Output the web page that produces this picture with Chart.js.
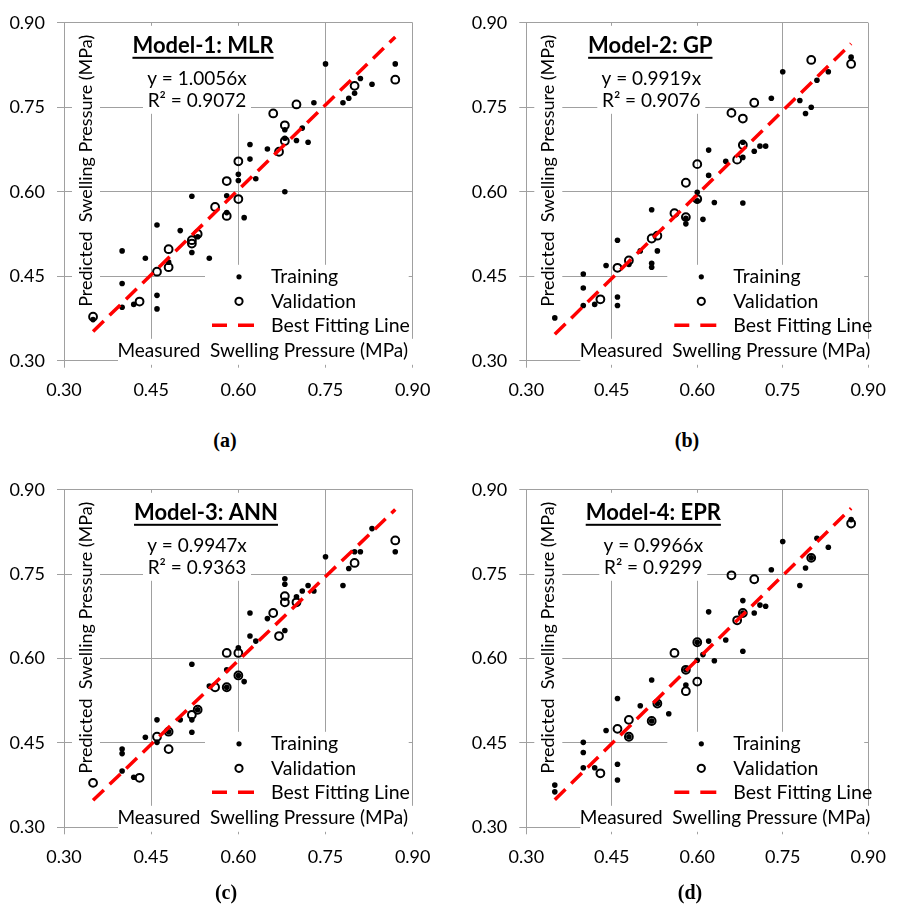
<!DOCTYPE html>
<html>
<head>
<meta charset="utf-8">
<script src="https://cdn.jsdelivr.net/npm/chart.js@4.4.0/dist/chart.umd.min.js"></script>
<style>
  body { margin: 0; background: #fff; }
  #wrap { position: relative; width: 898px; height: 910px; overflow: hidden; }
  canvas { position: absolute; }
  .lbl { position: absolute; font: bold 20px "Liberation Serif", serif; transform: translateX(-50%); line-height: 23px; }
</style>
</head>
<body>
<div id="wrap">
  <canvas id="pa" width="449" height="420" style="left:0;top:0"></canvas>
  <canvas id="pb" width="449" height="420" style="left:449px;top:0"></canvas>
  <canvas id="pc" width="449" height="420" style="left:0;top:467px"></canvas>
  <canvas id="pd" width="449" height="420" style="left:449px;top:467px"></canvas>
  <div class="lbl" style="left:225px;top:429px">(a)</div>
  <div class="lbl" style="left:687px;top:429px">(b)</div>
  <div class="lbl" style="left:226px;top:881px">(c)</div>
  <div class="lbl" style="left:690px;top:881px">(d)</div>
</div>
<script>
// axis ticks (same on both axes)
const tickValues = [0.30, 0.45, 0.60, 0.75, 0.90];
const tickLabels = ['0.30', '0.45', '0.60', '0.75', '0.90'];

// best fitting line end points
const fitX = [0.35, 0.87];
const mlrFitY = [0.352, 0.875];
const gpFitY = [0.347, 0.863];
const annFitY = [0.348, 0.865];
const eprFitY = [0.349, 0.867];

// Model-1: MLR
const mlrTrainX = [0.35,0.40,0.40,0.40,0.42,0.44,0.46,0.46,0.46,0.48,0.50,0.52,0.52,0.53,0.55,0.58,0.58,0.60,0.60,0.61,0.62,0.62,0.63,0.65,0.68,0.68,0.68,0.70,0.71,0.72,0.73,0.75,0.78,0.79,0.80,0.81,0.83,0.87];
const mlrTrainY = [0.373,0.495,0.437,0.395,0.400,0.482,0.541,0.416,0.392,0.475,0.531,0.592,0.492,0.520,0.482,0.593,0.563,0.631,0.620,0.554,0.684,0.658,0.623,0.676,0.710,0.695,0.600,0.691,0.713,0.688,0.758,0.827,0.758,0.766,0.775,0.801,0.791,0.827];
const mlrValX = [0.35,0.43,0.46,0.48,0.48,0.52,0.52,0.53,0.56,0.58,0.58,0.60,0.60,0.66,0.67,0.68,0.68,0.70,0.80,0.87];
const mlrValY = [0.378,0.405,0.458,0.498,0.466,0.514,0.508,0.525,0.573,0.619,0.557,0.654,0.587,0.739,0.671,0.718,0.690,0.755,0.788,0.799];

// Model-2: GP
const gpTrainX = [0.35,0.40,0.40,0.40,0.42,0.44,0.46,0.46,0.46,0.48,0.50,0.52,0.52,0.52,0.53,0.58,0.58,0.60,0.60,0.61,0.62,0.62,0.63,0.65,0.68,0.68,0.68,0.70,0.71,0.72,0.73,0.75,0.78,0.79,0.80,0.81,0.83,0.87];
const gpTrainY = [0.376,0.454,0.429,0.398,0.400,0.469,0.514,0.413,0.398,0.471,0.495,0.568,0.473,0.466,0.495,0.553,0.543,0.599,0.584,0.551,0.674,0.629,0.581,0.654,0.688,0.661,0.580,0.672,0.681,0.681,0.766,0.813,0.762,0.739,0.750,0.798,0.813,0.839];
const gpValX = [0.43,0.46,0.48,0.52,0.53,0.56,0.58,0.58,0.60,0.60,0.66,0.67,0.68,0.68,0.70,0.80,0.87];
const gpValY = [0.409,0.465,0.478,0.517,0.522,0.562,0.616,0.555,0.649,0.587,0.740,0.657,0.730,0.683,0.758,0.834,0.827];

// Model-3: ANN
const annTrainX = [0.40,0.40,0.40,0.42,0.44,0.46,0.46,0.48,0.50,0.52,0.52,0.52,0.53,0.55,0.58,0.58,0.60,0.60,0.61,0.62,0.62,0.63,0.65,0.68,0.68,0.68,0.70,0.71,0.72,0.73,0.75,0.78,0.79,0.80,0.81,0.83,0.87];
const annTrainY = [0.439,0.431,0.400,0.389,0.460,0.491,0.451,0.470,0.491,0.590,0.491,0.469,0.509,0.551,0.580,0.549,0.619,0.570,0.559,0.681,0.640,0.631,0.671,0.742,0.732,0.650,0.710,0.720,0.730,0.720,0.781,0.730,0.760,0.790,0.790,0.831,0.790];
const annValX = [0.35,0.43,0.46,0.48,0.48,0.52,0.53,0.56,0.58,0.58,0.60,0.60,0.66,0.67,0.68,0.68,0.70,0.80,0.87];
const annValY = [0.379,0.388,0.461,0.470,0.439,0.500,0.509,0.549,0.610,0.549,0.610,0.570,0.681,0.640,0.711,0.700,0.700,0.770,0.810];

// Model-4: EPR
const eprTrainX = [0.35,0.35,0.40,0.40,0.40,0.42,0.44,0.46,0.46,0.46,0.48,0.50,0.52,0.52,0.53,0.55,0.58,0.58,0.60,0.60,0.61,0.62,0.62,0.63,0.65,0.68,0.68,0.68,0.70,0.71,0.72,0.73,0.75,0.78,0.79,0.80,0.81,0.83,0.87];
const eprTrainY = [0.375,0.363,0.451,0.433,0.406,0.406,0.472,0.529,0.412,0.384,0.461,0.516,0.562,0.489,0.520,0.502,0.580,0.553,0.629,0.597,0.607,0.683,0.631,0.596,0.633,0.703,0.681,0.613,0.681,0.695,0.693,0.758,0.808,0.730,0.761,0.779,0.814,0.798,0.847];
const eprValX = [0.43,0.46,0.48,0.48,0.52,0.53,0.56,0.58,0.58,0.60,0.60,0.66,0.67,0.68,0.70,0.80,0.87];
const eprValY = [0.396,0.475,0.491,0.461,0.489,0.520,0.610,0.580,0.542,0.629,0.559,0.748,0.668,0.681,0.741,0.779,0.840];

const pts = (xs, ys) => xs.map((x, i) => ({x: x, y: ys[i]}));

const GRID = '#a0a0a0';
const FONT = 'Lato, "Liberation Sans", sans-serif';

// white label boxes + in-plot texts + legend
const decor = {
  id: 'decor',
  beforeDatasetsDraw(chart, args, o) {
    const ctx = chart.ctx, a = chart.chartArea;
    ctx.save();
    ctx.fillStyle = '#fff';
    ctx.fillRect(a.left + o.eqX - 54, a.top + 3, 108, 88);
    ctx.fillRect(a.left + 8, a.top + 5, 28, 285);
    ctx.fillRect(a.left + 141, a.top + 242, a.right - a.left - 145, 76);
    ctx.fillRect(a.left + 54, a.top + 316, a.right - a.left - 53, 26);
    ctx.restore();
  },
  afterDatasetsDraw(chart, args, o) {
    const ctx = chart.ctx, a = chart.chartArea;
    const L = a.left, T = a.top;
    ctx.save();
    ctx.fillStyle = '#000';
    ctx.textBaseline = 'alphabetic';

    // title, underlined
    ctx.font = 'bold 22px ' + FONT;
    ctx.textAlign = 'center';
    ctx.fillText(o.title, L + o.titleX, T + 30);
    const w = ctx.measureText(o.title).width;
    ctx.fillRect(L + o.titleX - w / 2, T + 34, w, 2);

    // equation
    ctx.font = '19px ' + FONT;
    ctx.fillText(o.eq, L + o.eqX, T + 62);
    ctx.fillText(o.r2, L + o.eqX, T + 84);

    // legend
    const rows = [T + 254, T + 278.5, T + 302.5];
    ctx.font = '19.5px ' + FONT;
    ctx.textAlign = 'left';
    ctx.fillText('Training', L + 207, rows[0] + 6.5);
    ctx.fillText('Validation', L + 207, rows[1] + 6.5);
    ctx.fillText('Best Fitting Line', L + 207, rows[2] + 6.5);
    ctx.beginPath();
    ctx.arc(L + 175, rows[0], 2.6, 0, Math.PI * 2);
    ctx.fill();
    ctx.beginPath();
    ctx.arc(L + 175, rows[1], 3.6, 0, Math.PI * 2);
    ctx.lineWidth = 2;
    ctx.strokeStyle = '#000';
    ctx.stroke();
    ctx.strokeStyle = '#f00';
    ctx.lineWidth = 3.5;
    ctx.beginPath();
    ctx.moveTo(L + 148, rows[2]); ctx.lineTo(L + 163, rows[2]);
    ctx.moveTo(L + 174, rows[2]); ctx.lineTo(L + 190, rows[2]);
    ctx.stroke();

    // axis titles inside the plot
    ctx.font = '19px ' + FONT;
    ctx.textAlign = 'right';
    ctx.fillText('Measured  Swelling Pressure (MPa)', L + 344, T + 334);
    ctx.font = '18px ' + FONT;
    ctx.translate(L + 28, T + 148);
    ctx.rotate(-Math.PI / 2);
    ctx.textAlign = 'center';
    ctx.fillText('Predicted  Swelling Pressure (MPa)', 0, 0);
    ctx.restore();
  }
};

function axis(isX) {
  return {
    type: 'linear',
    min: 0.30,
    max: 0.90,
    afterBuildTicks: s => { s.ticks = tickValues.map(v => ({value: v})); },
    afterFit: s => { if (isX) s.height = 40; else s.width = 64; },
    ticks: {
      callback: (v, i) => tickLabels[i],
      color: '#000',
      font: {family: FONT, size: 18},
      padding: isX ? 12 : 12,
      maxRotation: 0
    },
    grid: {color: GRID, lineWidth: 1, tickLength: 7, drawTicks: true},
    border: {color: GRID, width: 1}
  };
}

function makePanel(id, area, train, val, fitY, deco) {
  new Chart(document.getElementById(id), {
    type: 'scatter',
    data: {
      datasets: [
        {
          type: 'line',
          data: pts(fitX, fitY),
          borderColor: '#f00',
          borderWidth: 3.5,
          borderDash: [15, 8],
          pointRadius: 0,
          fill: false
        },
        {
          data: train,
          pointRadius: 2.8,
          pointBackgroundColor: '#000',
          pointBorderWidth: 0
        },
        {
          data: val,
          pointRadius: 3.9,
          pointBackgroundColor: 'rgba(0,0,0,0)',
          pointBorderColor: '#000',
          pointBorderWidth: 2
        }
      ]
    },
    options: {
      responsive: false,
      animation: false,
      layout: {
        padding: {left: area.left - 64, right: 449 - area.right, top: area.top, bottom: 420 - area.bottom - 40}
      },
      scales: {x: axis(true), y: axis(false)},
      plugins: {legend: {display: false}, tooltip: {enabled: false}, decor: deco}
    },
    plugins: [decor]
  });
}

makePanel('pa', {left: 64, right: 412.7, top: 15, bottom: 360.7},
  pts(mlrTrainX, mlrTrainY), pts(mlrValX, mlrValY), mlrFitY,
  {title: 'Model-1: MLR', titleX: 139, eq: 'y = 1.0056x', r2: 'R² = 0.9072', eqX: 133});
makePanel('pb', {left: 77.3, right: 425.7, top: 15, bottom: 360.7},
  pts(gpTrainX, gpTrainY), pts(gpValX, gpValY), gpFitY,
  {title: 'Model-2: GP', titleX: 124, eq: 'y = 0.9919x', r2: 'R² = 0.9076', eqX: 125});
makePanel('pc', {left: 64, right: 412.7, top: 15.3, bottom: 360.3},
  pts(annTrainX, annTrainY), pts(annValX, annValY), annFitY,
  {title: 'Model-3: ANN', titleX: 142, eq: 'y = 0.9947x', r2: 'R² = 0.9363', eqX: 133});
makePanel('pd', {left: 77.3, right: 425.7, top: 15.3, bottom: 360.3},
  pts(eprTrainX, eprTrainY), pts(eprValX, eprValY), eprFitY,
  {title: 'Model-4: EPR', titleX: 127, eq: 'y = 0.9966x', r2: 'R² = 0.9299', eqX: 127});
</script>
</body>
</html>
